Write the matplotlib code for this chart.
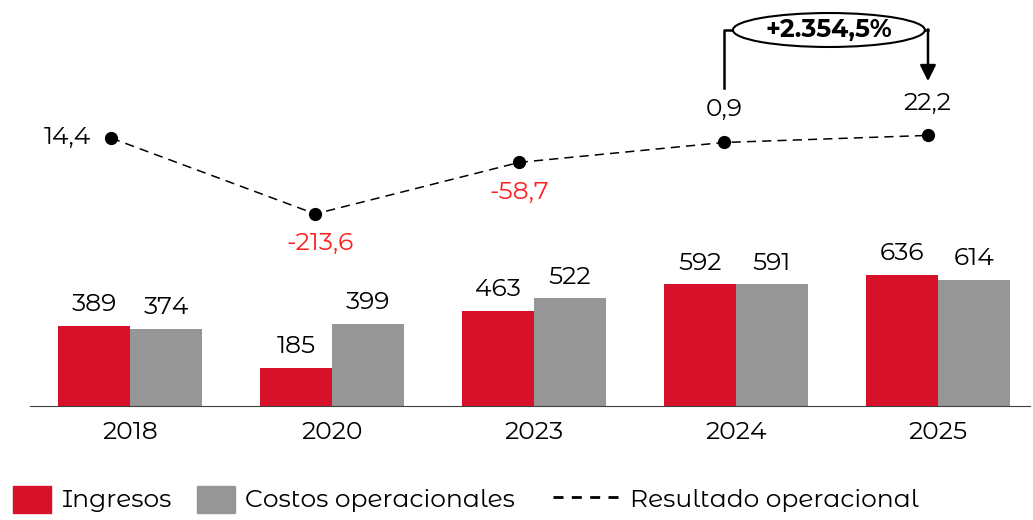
import matplotlib.pyplot as plt
from matplotlib.patches import Ellipse, Rectangle
from matplotlib.lines import Line2D

plt.rcParams['font.family'] = ['Montserrat Alternates', 'Noto Sans', 'DejaVu Sans']

years = ["2018", "2020", "2023", "2024", "2025"]
ingresos = [389, 185, 463, 592, 636]
costos = [374, 399, 522, 591, 614]
resultado = [14.4, -213.6, -58.7, 0.9, 22.2]
resultado_labels = ["14,4", "-213,6", "-58,7", "0,9", "22,2"]
variacion = "+2.354,5%"
series_names = ["Ingresos", "Costos operacionales", "Resultado operacional"]

RED = "#d7112a"
GREY = "#969696"
NEG = "#ff1f1f"
FS = 18

W, H = 1033, 520
fig = plt.figure(figsize=(W / 100, H / 100), dpi=100)
ax = fig.add_axes([30 / W, 114 / H, 1000 / W, 406 / H])

x = list(range(len(years)))
w = 0.356
ax.bar([i - w / 2 for i in x], ingresos, w, color=RED)
ax.bar([i + w / 2 for i in x], costos, w, color=GREY)
for i in x:
    ax.annotate(str(ingresos[i]), (i - w / 2, ingresos[i]), xytext=(0, 21),
                textcoords="offset pixels", ha="center", va="center", fontsize=FS)
    ax.annotate(str(costos[i]), (i + w / 2, costos[i]), xytext=(0, 21),
                textcoords="offset pixels", ha="center", va="center", fontsize=FS)

ax.set_xlim(-0.495, 4.455)
ax.set_ylim(0, 1971)
ax.set_xticks(x)
ax.set_xticklabels(years, fontsize=FS)
ax.tick_params(axis="x", length=0, pad=11)
ax.set_yticks([])
for s in ["top", "left", "right"]:
    ax.spines[s].set_visible(False)
ax.spines["bottom"].set_color("#404040")

# operating result on its own scale
ax2 = ax.twinx()
ax2.set_ylim(-790.4, 428.8)
ax2.set_yticks([])
for s in ax2.spines.values():
    s.set_visible(False)
lx = [-0.094 + i * 1.011 for i in x]
ax2.plot(lx, resultado, color="black", linestyle=(0, (6, 4)), linewidth=1.1,
         marker="o", markersize=8.5)

offsets = [("right", -20, 0), ("center", 5, -30), ("center", 0, -30),
           ("center", 0, 33), ("center", 0, 32)]
for i, (ha, dx, dy) in enumerate(offsets):
    col = NEG if resultado[i] < 0 else "black"
    ax2.annotate(resultado_labels[i], (lx[i], resultado[i]), xytext=(dx, dy),
                 textcoords="offset pixels", ha=ha, va="center", fontsize=FS, color=col)

# growth bracket between 2024 and 2025
y_top = 338.7
mid = (lx[3] + lx[4]) / 2 + 0.015
ax2.plot([lx[3], lx[3], mid], [164.6, y_top, y_top], color="black", lw=1.8)
ax2.plot([mid, lx[4]], [y_top, y_top], color="black", lw=1.8)
ax2.annotate("", xy=(lx[4], 185), xytext=(lx[4], y_top + 2),
             arrowprops=dict(arrowstyle="-|>", color="black", lw=1.8,
                             mutation_scale=24, shrinkA=0, shrinkB=0))
ell = Ellipse((mid, y_top), 0.95, 102, facecolor="white",
              edgecolor="black", lw=1.5, zorder=3)
ax2.add_patch(ell)
ax2.text(mid, y_top, variacion, ha="center", va="center",
         fontsize=18, fontweight="bold", zorder=4)

# legend drawn by hand in figure pixels
def px(xp, yp):
    return xp / W, 1 - yp / H

ly = 500
fig.add_artist(Rectangle(px(13, 513), 38 / W, 27 / H, color=RED, transform=fig.transFigure))
fig.text(*px(62, ly), series_names[0], fontsize=18, va="center")
fig.add_artist(Rectangle(px(197, 513), 38 / W, 27 / H, color=GREY, transform=fig.transFigure))
fig.text(*px(245, ly), series_names[1], fontsize=18, va="center")
fig.add_artist(Line2D([553 / W, 620 / W], [1 - 497 / H, 1 - 497 / H], color="black", lw=2,
                      linestyle=(0, (3.6, 3.0)), transform=fig.transFigure))
fig.text(*px(630, ly), series_names[2], fontsize=18, va="center")

fig.savefig("out.png", dpi=100)
